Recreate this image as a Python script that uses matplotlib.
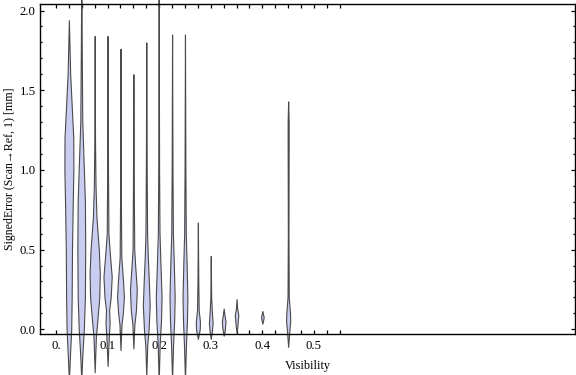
import matplotlib
matplotlib.use('Agg')
import matplotlib.pyplot as plt
import numpy as np

plt.rcParams['font.family'] = ['Liberation Serif', 'DejaVu Serif']

# violin centres (visibility)
positions = [0.025, 0.05, 0.075, 0.1, 0.125, 0.15, 0.175, 0.2,
             0.225, 0.25, 0.275, 0.3, 0.325, 0.35, 0.4, 0.45]

# density outlines: signed error [mm] and half width (x units)
prof_y = [
    [1.94, 1.6, 1.4, 1.2, 1.0, 0.8, 0.5, 0.2, 0.0, -0.15, -0.32],
    [2.2, 1.7, 1.3, 1.0, 0.8, 0.5, 0.2, 0.0, -0.15, -0.32],
    [1.84, 1.2, 0.9, 0.7, 0.5, 0.35, 0.2, 0.05, -0.05, -0.27],
    [1.84, 1.0, 0.6, 0.45, 0.33, 0.2, 0.12, 0.04, -0.05, -0.23],
    [1.76, 0.8, 0.45, 0.3, 0.2, 0.1, 0.03, -0.13],
    [1.60, 0.9, 0.5, 0.4, 0.25, 0.12, 0.03, -0.12],
    [1.80, 1.0, 0.6, 0.45, 0.3, 0.15, 0.0, -0.1, -0.3],
    [2.2, 1.0, 0.6, 0.4, 0.2, 0.05, -0.1, -0.34],
    [1.85, 1.0, 0.6, 0.4, 0.2, 0.05, -0.1, -0.32],
    [1.85, 1.0, 0.6, 0.4, 0.2, 0.05, -0.1, -0.32],
    [0.67, 0.3, 0.12, 0.05, 0.0, -0.06],
    [0.46, 0.2, 0.1, 0.04, -0.02, -0.06],
    [0.13, 0.09, 0.05, 0.0, -0.04],
    [0.19, 0.13, 0.09, 0.05, 0.02, -0.02],
    [0.115, 0.075, 0.035],
    [1.43, 1.3, 1.2, 0.6, 0.2, 0.1, 0.05, 0.0, -0.11],
]
prof_w = [
    [0, 0.0025, 0.0055, 0.0085, 0.0087, 0.0075, 0.0060, 0.0054, 0.0045, 0.0023, 0],
    [0, 0.0010, 0.0019, 0.0050, 0.0070, 0.0076, 0.0070, 0.0050, 0.0023, 0],
    [0, 0.0006, 0.0016, 0.0035, 0.0080, 0.0099, 0.0089, 0.0050, 0.0023, 0],
    [0, 0.0008, 0.0016, 0.0050, 0.0080, 0.0060, 0.0030, 0.0040, 0.0023, 0],
    [0, 0.0008, 0.0016, 0.0050, 0.0066, 0.0045, 0.0019, 0],
    [0, 0.0008, 0.0016, 0.0035, 0.0066, 0.0050, 0.0019, 0],
    [0, 0.0008, 0.0016, 0.0030, 0.0050, 0.0066, 0.0045, 0.0019, 0],
    [0, 0.0008, 0.0016, 0.0035, 0.0056, 0.0045, 0.0019, 0],
    [0, 0.0008, 0.0016, 0.0035, 0.0050, 0.0040, 0.0019, 0],
    [0, 0.0008, 0.0016, 0.0033, 0.0047, 0.0038, 0.0019, 0],
    [0, 0.0008, 0.0016, 0.0040, 0.0036, 0],
    [0, 0.0008, 0.0023, 0.0036, 0.0019, 0],
    [0, 0.0016, 0.0036, 0.0023, 0],
    [0, 0.0012, 0.0034, 0.0023, 0.0016, 0],
    [0, 0.0026, 0],
    [0, 0.0010, 0.0010, 0.0006, 0.0012, 0.0036, 0.0040, 0.0025, 0],
]

fig = plt.figure(figsize=(5.76, 3.75), dpi=100)
ax = fig.add_axes([40 / 576, 1 - 334 / 375, 535 / 576, 330 / 375])

for x0, ys, ws in zip(positions, prof_y, prof_w):
    ys = np.array(ys)
    ws = np.array(ws)
    ax.fill_betweenx(ys, x0 - ws, x0 + ws, facecolor='#c9cdf1',
                     edgecolor='#4a4a4a', linewidth=0.8, clip_on=False, zorder=2)

ax.set_xlim(-0.031, 1.006)
ax.set_ylim(-0.0295, 2.041)

xt = np.arange(0, 0.5501, 0.025)
ax.set_xticks(xt)
ax.set_xticklabels(['0.' if abs(v) < 1e-9 else ('%.1f' % v if abs(v * 10 - round(v * 10)) < 1e-6 else '')
                    for v in xt])
ax.set_yticks([0, 0.5, 1.0, 1.5, 2.0])
ax.set_yticklabels(['0.0', '0.5', '1.0', '1.5', '2.0'])
ax.set_yticks(np.arange(0, 2.01, 0.1), minor=True)

ax.tick_params(axis='x', which='major', direction='in', length=2.9, width=0.9,
               top=True, labelsize=9.2, pad=4)
ax.tick_params(axis='y', which='major', direction='in', length=3.1, width=0.9,
               right=True, labelsize=9.2, pad=3)
ax.tick_params(axis='y', which='minor', direction='in', length=1.7, width=0.9, right=True)

for s in ax.spines.values():
    s.set_linewidth(1.0)

ax.set_xlabel('Visibility', fontsize=8.8, labelpad=6)
ax.set_ylabel('SignedError (Scan\u2192Ref, 1) [mm]', fontsize=8.6, labelpad=3)

fig.savefig('out.png', dpi=100)
